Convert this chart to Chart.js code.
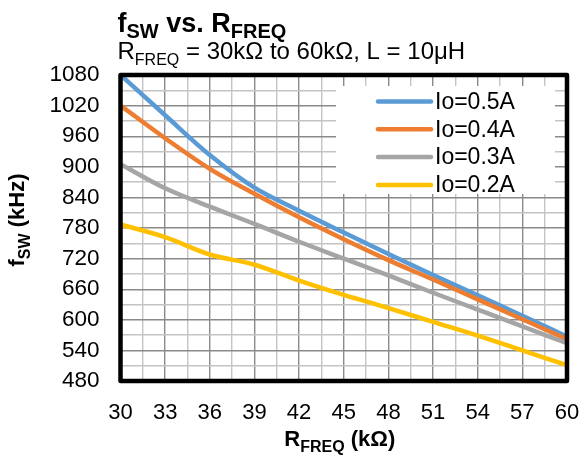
<!DOCTYPE html>
<html lang="en">
  <head>
    <meta charset="UTF-8" />
    <title>fSW vs. RFREQ</title>
    <script src="https://cdn.jsdelivr.net/npm/chart.js@4.4.1/dist/chart.umd.min.js"></script>
    <style>
      body {
        margin: 0;
        background: #ffffff;
      }
      .chart-box {
        position: relative;
        width: 585px;
        height: 458px;
      }
    </style>
  </head>
  <body>
    <div class="chart-box">
      <canvas id="graficoFsw"></canvas>
    </div>

    <script>
      // Dados
      const rFreq = [30, 33, 36, 39, 42, 45, 48, 51, 54, 57, 60];
      const io05 = [1080, 1001, 923, 859, 814, 771, 729, 688, 648, 608, 567];
      const io04 = [1020, 956, 896, 847, 801, 758, 717, 679, 640, 601, 562];
      const io03 = [905, 858, 822, 788, 753, 720, 687, 653, 620, 587, 554];
      const io02 = [787, 762, 728, 708, 677, 649, 623, 596, 569, 540, 511];

      const seriesLabels = ["Io=0.5A", "Io=0.4A", "Io=0.3A", "Io=0.2A"];
      const seriesColors = ["#5B9BD5", "#ED7D31", "#A5A5A5", "#FFC000"];

      const xTickLabels = [30, 33, 36, 39, 42, 45, 48, 51, 54, 57, 60];
      const yTickLabels = [480, 540, 600, 660, 720, 780, 840, 900, 960, 1020, 1080];

      // textos com subscrito: [texto, é subscrito]
      const titleParts = [["f", 0], ["SW", 1], [" vs. R", 0], ["FREQ", 1]];
      const subtitleParts = [["R", 0], ["FREQ", 1], [" = 30kΩ to 60kΩ, L = 10μH", 0]];
      const xTitleParts = [["R", 0], ["FREQ", 1], [" (kΩ)", 0]];
      const yTitleParts = [["f", 0], ["SW", 1], [" (kHz)", 0]];

      const FONT = "'Liberation Sans', Arial, sans-serif";
      const gridDark = "#8a8a8a";
      const gridLight = "#c4c4c4";

      const toPoints = (ys) => rFreq.map((x, i) => ({ x: x, y: ys[i] }));

      // desenha texto com partes em subscrito
      const richWidth = (ctx, parts, mainFont, subFont) => {
        let w = 0;
        parts.forEach(([txt, sub]) => {
          ctx.font = sub ? subFont : mainFont;
          w += ctx.measureText(txt).width;
        });
        return w;
      };
      const drawRich = (ctx, parts, x, y, mainFont, subFont, shift) => {
        let cx = x;
        parts.forEach(([txt, sub]) => {
          ctx.font = sub ? subFont : mainFont;
          ctx.fillText(txt, cx, y + (sub ? shift : 0));
          cx += ctx.measureText(txt).width;
        });
      };

      const textPlugin = {
        id: "textos",
        afterDraw(chart) {
          const ctx = chart.ctx;
          const a = chart.chartArea;
          ctx.save();
          ctx.fillStyle = "#000";
          ctx.textBaseline = "alphabetic";
          ctx.textAlign = "left";

          // borda grossa do gráfico
          ctx.strokeStyle = "#000";
          ctx.lineWidth = 4.5;
          ctx.lineJoin = "round";
          ctx.strokeRect(a.left, a.top, a.right - a.left, a.bottom - a.top);

          // título e subtítulo
          drawRich(ctx, titleParts, a.left - 3, 31.5, "bold 27px " + FONT, "bold 20px " + FONT, 6.5);
          drawRich(ctx, subtitleParts, a.left - 3, 59, "24px " + FONT, "16px " + FONT, 5.5);

          // título do eixo x
          const xMain = "bold 22px " + FONT;
          const xSub = "bold 16px " + FONT;
          const wx = richWidth(ctx, xTitleParts, xMain, xSub);
          drawRich(ctx, xTitleParts, (a.left + a.right) / 2 - wx / 2 - 4, 446, xMain, xSub, 6);

          // título do eixo y (rotacionado)
          const wy = richWidth(ctx, yTitleParts, xMain, xSub);
          ctx.translate(24, (a.top + a.bottom) / 2 - 8);
          ctx.rotate(-Math.PI / 2);
          drawRich(ctx, yTitleParts, -wy / 2, 0, xMain, xSub, 6);
          ctx.restore();
        },
      };

      const legendPlugin = {
        id: "legendaInterna",
        afterDatasetsDraw(chart) {
          const ctx = chart.ctx;
          const a = chart.chartArea;
          const boxRight = a.right - 12;
          const boxLeft = boxRight - 219;
          const boxTop = a.top + 11;
          ctx.save();
          ctx.fillStyle = "#fff";
          ctx.fillRect(boxLeft, boxTop, 219, 108);
          ctx.font = "23px " + FONT;
          ctx.textBaseline = "middle";
          ctx.textAlign = "left";
          ctx.lineCap = "round";
          seriesLabels.forEach((label, i) => {
            const y = boxTop + 15.5 + i * 27.8;
            ctx.strokeStyle = seriesColors[i];
            ctx.lineWidth = 4.5;
            ctx.beginPath();
            ctx.moveTo(boxLeft + 42, y);
            ctx.lineTo(boxLeft + 95, y);
            ctx.stroke();
            ctx.fillStyle = "#000";
            ctx.fillText(label, boxLeft + 99, y + 1);
          });
          ctx.restore();
        },
      };

      const makeDataset = (i, ys) => ({
        label: seriesLabels[i],
        data: toPoints(ys),
        borderColor: seriesColors[i],
        backgroundColor: seriesColors[i],
        borderWidth: 4.5,
        pointRadius: 0,
        cubicInterpolationMode: "monotone",
        fill: false,
        order: 4 - i,
      });

      const ctxFsw = document.getElementById("graficoFsw").getContext("2d");
      new Chart(ctxFsw, {
        type: "line",
        data: {
          datasets: [
            makeDataset(0, io05),
            makeDataset(1, io04),
            makeDataset(2, io03),
            makeDataset(3, io02),
          ],
        },
        options: {
          responsive: true,
          maintainAspectRatio: false,
          animation: false,
          layout: {
            padding: { top: 75, right: 18, left: 0, bottom: 0 },
          },
          plugins: {
            legend: { display: false },
            title: { display: false },
            tooltip: { enabled: false },
          },
          scales: {
            x: {
              type: "linear",
              min: 30,
              max: 60,
              afterFit: (scale) => {
                scale.height = 77;
                scale.paddingLeft = 0;
                scale.paddingRight = 0;
              },
              ticks: {
                stepSize: 1.5,
                autoSkip: false,
                maxRotation: 0,
                padding: 19,
                color: "#000",
                font: { family: FONT, size: 22 },
                callback: (v) => (xTickLabels.includes(v) ? String(v) : ""),
              },
              grid: {
                drawTicks: false,
                lineWidth: 1.4,
                color: (c) => (c.tick && xTickLabels.includes(c.tick.value) ? gridDark : gridLight),
              },
              border: { display: false },
            },
            y: {
              min: 480,
              max: 1080,
              afterFit: (scale) => {
                scale.width = 120.5;
              },
              ticks: {
                stepSize: 30,
                autoSkip: false,
                padding: 21,
                color: "#000",
                font: { family: FONT, size: 22.5 },
                callback: (v) => (yTickLabels.includes(v) ? String(v) : ""),
              },
              grid: {
                drawTicks: false,
                lineWidth: 1.4,
                color: (c) => (c.tick && yTickLabels.includes(c.tick.value) ? gridDark : gridLight),
              },
              border: { display: false },
            },
          },
        },
        plugins: [legendPlugin, textPlugin],
      });
    </script>
  </body>
</html>
